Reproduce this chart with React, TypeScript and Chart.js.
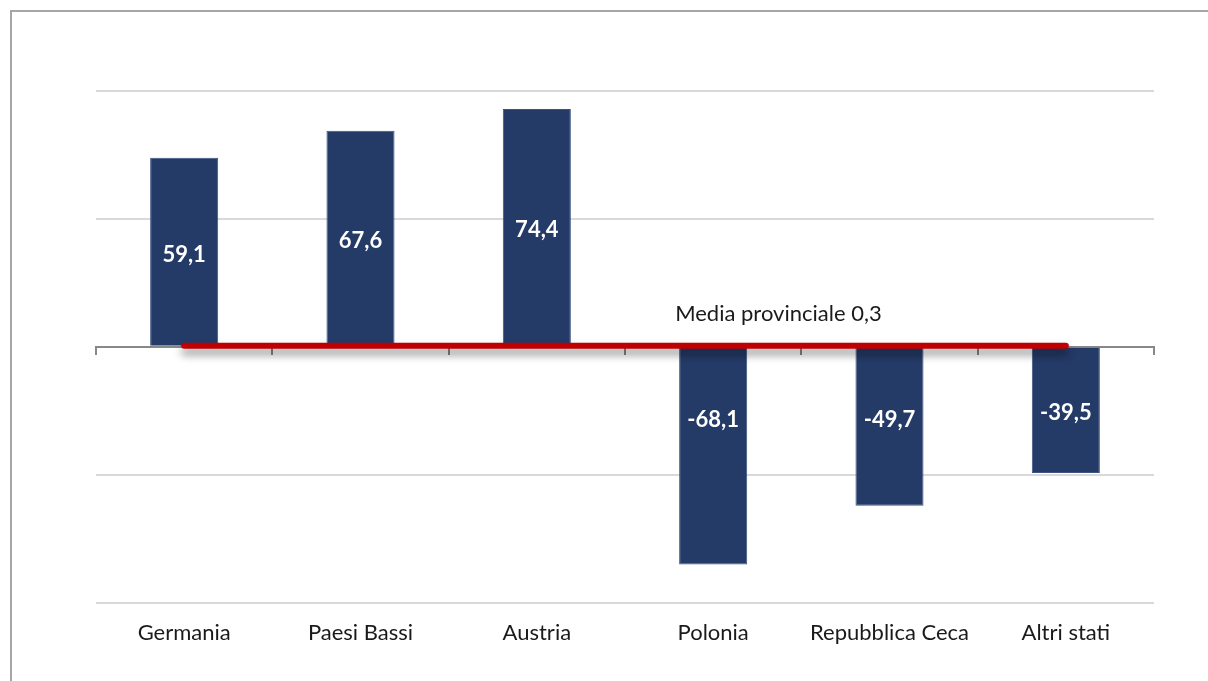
import React, { useEffect, useRef } from "react";
import { Chart, registerables } from "chart.js";

Chart.register(...registerables);

const categories = ["Germania", "Paesi Bassi", "Austria", "Polonia", "Repubblica Ceca", "Altri stati"];
const values = [59.1, 67.6, 74.4, -68.1, -49.7, -39.5];
const mediaProvinciale = 0.3;
const mediaLabel = "Media provinciale 0,3";
const yMin = -80;
const yMax = 80;
const yStep = 40;

const FONT = "Lato, 'Open Sans', sans-serif";

const labelsPlugin = {
  id: "barLabels",
  afterDatasetsDraw(chart: any) {
    const ctx = chart.ctx;
    const yScale = chart.scales.y;
    const xScale = chart.scales.x;
    const meta = chart.getDatasetMeta(0);
    ctx.save();
    ctx.font = `bold 22px ${FONT}`;
    ctx.fillStyle = "#ffffff";
    ctx.textAlign = "center";
    ctx.textBaseline = "middle";
    meta.data.forEach((el: any, i: number) => {
      const v = values[i];
      let y = (el.y + el.base) / 2;
      if (v < 0) {
        const capped = yScale.getPixelForValue(Math.max(v / 2, -22));
        y = Math.min(y, capped);
      }
      ctx.fillText(v.toFixed(1).replace(".", ","), el.x, y + 3);
    });
    // media label
    ctx.font = `22px ${FONT}`;
    ctx.fillStyle = "#1a1a1a";
    const x = xScale.getPixelForValue(3) + (xScale.getPixelForValue(4) - xScale.getPixelForValue(3)) * 0.37;
    const ym = yScale.getPixelForValue(mediaProvinciale) - 32;
    ctx.fillText(mediaLabel, x, ym);
    ctx.restore();
  },
};

const shadowPlugin = {
  id: "lineShadow",
  beforeDatasetDraw(chart: any, args: any) {
    if (args.index === 1) {
      const ctx = chart.ctx;
      ctx.save();
      ctx.shadowColor = "rgba(0,0,0,0.45)";
      ctx.shadowBlur = 8;
      ctx.shadowOffsetY = 6;
    }
  },
  afterDatasetDraw(chart: any, args: any) {
    if (args.index === 1) {
      chart.ctx.restore();
    }
  },
};

export default function App() {
  const ref = useRef<HTMLCanvasElement | null>(null);
  useEffect(() => {
    if (!ref.current) return;
    const chart = new Chart(ref.current, {
      type: "bar",
      data: {
        labels: categories,
        datasets: [
          {
            type: "bar",
            data: values,
            backgroundColor: "#243a67",
            borderColor: "#3d5283",
            borderWidth: 1,
            barPercentage: 0.386,
            categoryPercentage: 1,
            order: 2,
          } as any,
          {
            type: "line",
            data: categories.map(() => mediaProvinciale),
            borderColor: "#c00000",
            borderWidth: 6,
            borderCapStyle: "round",
            pointRadius: 0,
            fill: false,
            order: 1,
          } as any,
        ],
      },
      options: {
        responsive: false,
        animation: false,
        layout: { padding: { left: 96, right: 54, top: 91, bottom: 18 } },
        plugins: { legend: { display: false }, tooltip: { enabled: false } },
        scales: {
          x: {
            grid: { display: false, drawTicks: false },
            border: { display: false },
            ticks: {
              padding: 17,
              color: "#1a1a1a",
              font: { family: FONT, size: 22 },
              maxRotation: 0,
              autoSkip: false,
            },
          },
          xz: {
            type: "category",
            axis: "x",
            labels: categories,
            position: { y: 0 },
            offset: true,
            grid: {
              offset: true,
              drawOnChartArea: false,
              drawTicks: true,
              tickLength: 7,
              color: "#888888",
              lineWidth: 2,
            },
            border: { display: true, color: "#888888", width: 2 },
            ticks: { display: false },
          } as any,
          y: {
            min: yMin,
            max: yMax,
            ticks: { display: false, stepSize: yStep },
            border: { display: false },
            grid: {
              drawTicks: false,
              lineWidth: 2,
              color: (c: any) => (c.tick && c.tick.value === 0 ? "rgba(0,0,0,0)" : "#d9d9d9"),
            },
          },
        },
      },
      plugins: [shadowPlugin, labelsPlugin],
    });
    return () => chart.destroy();
  }, []);
  return (
    <div style={{ position: "absolute", left: 0, top: 0, width: 1208, height: 681, background: "#fff" }}>
      <div
        style={{
          position: "absolute",
          left: 10,
          top: 10,
          right: 0,
          bottom: 0,
          borderLeft: "2px solid #a6a6a6",
          borderTop: "2px solid #a6a6a6",
        }}
      />
      <canvas ref={ref} width={1208} height={681} style={{ position: "absolute", left: 0, top: 0 }} />
    </div>
  );
}
